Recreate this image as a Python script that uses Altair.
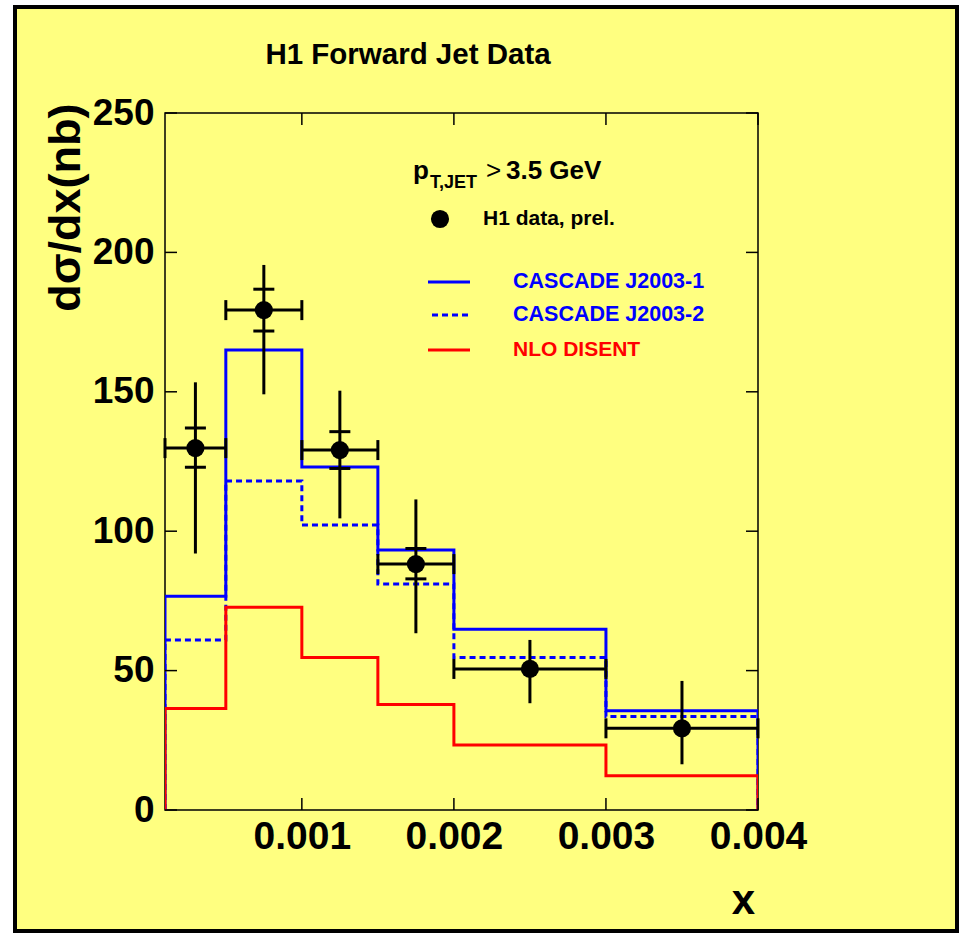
import altair as alt
import pandas as pd

# ---------------- data ----------------
bin_edges = [0.0001, 0.0005, 0.001, 0.0015, 0.002, 0.003, 0.004]
cascade1 = [76.7, 165.0, 123.0, 93.3, 64.8, 35.6]
cascade2 = [61.0, 118.0, 102.2, 81.1, 54.7, 33.5]
nlo_disent = [36.4, 72.7, 54.7, 37.8, 23.3, 12.3]

x_data = [0.0003, 0.00075, 0.00125, 0.00175, 0.0025, 0.0035]
y_data = [129.8, 179.3, 129.1, 88.2, 50.6, 29.3]
tot_lo = [92.0, 149.1, 104.6, 63.4, 38.3, 16.4]
tot_hi = [153.4, 195.5, 150.4, 111.4, 61.0, 46.3]
stat_lo = [122.9, 171.8, 122.5, 82.9, None, None]
stat_hi = [137.0, 186.8, 135.7, 93.8, None, None]

x_ticks = [0.001, 0.002, 0.003, 0.004]
y_ticks = [0, 50, 100, 150, 200, 250]

FONT = "Liberation Sans"
YELLOW = "#ffff80"
W, H = 593, 697

# ---------------- tables ----------------
def hist_outline(values, name):
    rows = [{"x": bin_edges[0], "y": 0.0, "o": 0, "s": name}]
    k = 1
    for i, v in enumerate(values):
        rows.append({"x": bin_edges[i], "y": v, "o": k, "s": name}); k += 1
        rows.append({"x": bin_edges[i + 1], "y": v, "o": k, "s": name}); k += 1
    rows.append({"x": bin_edges[-1], "y": 0.0, "o": k, "s": name})
    return pd.DataFrame(rows)

h1 = hist_outline(cascade1, "CASCADE J2003-1")
h2 = hist_outline(cascade2, "CASCADE J2003-2")
h3 = hist_outline(nlo_disent, "NLO DISENT")

pts = pd.DataFrame({
    "x": x_data, "y": y_data,
    "xlo": bin_edges[:-1], "xhi": bin_edges[1:],
    "tlo": tot_lo, "thi": tot_hi,
    "slo": stat_lo, "shi": stat_hi,
})
stat = pts.dropna(subset=["slo"])
caps_x = pd.concat([
    pd.DataFrame({"x": pts["xlo"], "y": pts["y"]}),
    pd.DataFrame({"x": pts["xhi"], "y": pts["y"]}),
])
caps_y = pd.concat([
    pd.DataFrame({"x": stat["x"], "y": stat["slo"]}),
    pd.DataFrame({"x": stat["x"], "y": stat["shi"]}),
])

xs = alt.Scale(domain=[bin_edges[0], bin_edges[-1]], nice=False, zero=False)
ys = alt.Scale(domain=[0, 250], nice=False)

x_axis = alt.Axis(values=x_ticks, format=".3f", title="x", grid=False,
                  ticks=False, domain=False, labelFlush=False, zindex=2,
                  labelFont=FONT, labelFontSize=39, labelFontWeight="bold",
                  labelColor="black", labelPadding=7,
                  titleFont=FONT, titleFontSize=42, titleFontWeight="bold",
                  titleX=578, titleY=90, titleAlign="center",
                  titleBaseline="middle", titleColor="black")
y_axis = alt.Axis(values=y_ticks, title="dσ/dx(nb)", grid=False,
                  ticks=False, domain=False, labelFlush=False, zindex=2,
                  labelFont=FONT, labelFontSize=37, labelFontWeight="bold",
                  labelColor="black", labelPadding=11,
                  titleFont=FONT, titleFontSize=45, titleFontWeight="bold",
                  titleAngle=-90, titleX=-100, titleY=-10, titleAlign="right",
                  titleBaseline="middle", titleColor="black")

one = pd.DataFrame({"a": [0]})

frame = alt.Chart(one).mark_rect(fill=YELLOW, stroke="black", strokeWidth=4).encode(
    x=alt.value(-150), x2=alt.value(792), y=alt.value(-106), y2=alt.value(818))
plot_box = alt.Chart(one).mark_rect(fill=None, filled=False, stroke="black",
                                    strokeWidth=1.5).encode(
    x=alt.value(0), x2=alt.value(W), y=alt.value(0), y2=alt.value(H))

def hist_layer(df, color, dash=None):
    kw = dict(color=color, strokeWidth=3, clip=True)
    if dash:
        kw["strokeDash"] = dash
    return alt.Chart(df).mark_line(**kw).encode(
        x=alt.X("x:Q", scale=xs, axis=x_axis),
        y=alt.Y("y:Q", scale=ys, axis=y_axis),
        order="o:Q")

l_c1 = hist_layer(h1, "#0000ff")
l_c2 = hist_layer(h2, "#0000ff", [6, 4])
l_nlo = hist_layer(h3, "#ff0000")

herr = alt.Chart(pts).mark_rule(color="black", strokeWidth=3).encode(
    x=alt.X("xlo:Q", scale=xs), x2="xhi:Q", y=alt.Y("y:Q", scale=ys))
verr = alt.Chart(pts).mark_rule(color="black", strokeWidth=3).encode(
    x=alt.X("x:Q", scale=xs), y=alt.Y("tlo:Q", scale=ys), y2="thi:Q")
hcaps = alt.Chart(caps_x).mark_tick(color="black", orient="vertical", size=20,
                                     thickness=3, opacity=1).encode(
    x=alt.X("x:Q", scale=xs), y=alt.Y("y:Q", scale=ys))
vcaps = alt.Chart(caps_y).mark_tick(color="black", orient="horizontal", size=21,
                                     thickness=3, opacity=1).encode(
    x=alt.X("x:Q", scale=xs), y=alt.Y("y:Q", scale=ys))
dots = alt.Chart(pts).mark_point(filled=True, shape="circle", size=330,
                                 color="black", opacity=1).encode(
    x=alt.X("x:Q", scale=xs), y=alt.Y("y:Q", scale=ys))

# inward ticks on all four sides
xt = pd.DataFrame({"t": x_ticks})
yt = pd.DataFrame({"t": y_ticks})
tick_b = alt.Chart(xt).mark_rule(color="black", strokeWidth=1.5).encode(
    x=alt.X("t:Q", scale=xs), y=alt.value(H), y2=alt.value(H - 12))
tick_t = alt.Chart(xt).mark_rule(color="black", strokeWidth=1.5).encode(
    x=alt.X("t:Q", scale=xs), y=alt.value(0), y2=alt.value(12))
tick_l = alt.Chart(yt).mark_rule(color="black", strokeWidth=1.5).encode(
    y=alt.Y("t:Q", scale=ys), x=alt.value(0), x2=alt.value(12))
tick_r = alt.Chart(yt).mark_rule(color="black", strokeWidth=1.5).encode(
    y=alt.Y("t:Q", scale=ys), x=alt.value(W), x2=alt.value(W - 12))

def txt(text, x, y, size, color="black", weight="bold", baseline="middle",
        align="left"):
    return alt.Chart(one).mark_text(text=text, font=FONT, fontSize=size,
                                    fontWeight=weight, color=color,
                                    align=align, baseline=baseline).encode(
        x=alt.value(x), y=alt.value(y))

title = txt("H1 Forward Jet Data", 243, -58, 29.5, align="center")
pt_p = txt("p", 248, 66, 26, baseline="alphabetic")
pt_sub = txt("T,JET", 265, 75, 18, baseline="alphabetic")
pt_gt = txt(">", 321, 66, 26, weight="normal", baseline="alphabetic")
pt_val = txt("3.5 GeV", 341, 66, 26, baseline="alphabetic")

leg_dot = alt.Chart(one).mark_point(filled=True, shape="circle", size=330,
                                    color="black", opacity=1).encode(
    x=alt.value(275), y=alt.value(106))
leg_dot_t = txt("H1 data, prel.", 318, 106, 21)
leg_l1 = alt.Chart(one).mark_rule(color="#0000ff", strokeWidth=3).encode(
    x=alt.value(263), x2=alt.value(305), y=alt.value(169))
leg_l1_t = txt("CASCADE J2003-1", 348, 169, 21.5, color="#0000ff")
leg_l2 = alt.Chart(one).mark_rule(color="#0000ff", strokeWidth=3,
                                  strokeDash=[6, 4]).encode(
    x=alt.value(267), x2=alt.value(305), y=alt.value(202))
leg_l2_t = txt("CASCADE J2003-2", 348, 202, 21.5, color="#0000ff")
leg_l3 = alt.Chart(one).mark_rule(color="#ff0000", strokeWidth=3).encode(
    x=alt.value(263), x2=alt.value(305), y=alt.value(237))
leg_l3_t = txt("NLO DISENT", 348, 237, 21, color="#ff0000")

chart = alt.layer(
    frame, plot_box, l_c1, l_c2, l_nlo, herr, verr, hcaps, vcaps, dots,
    tick_b, tick_t, tick_l, tick_r,
    title, pt_p, pt_sub, pt_gt, pt_val,
    leg_dot, leg_dot_t, leg_l1, leg_l1_t, leg_l2, leg_l2_t, leg_l3, leg_l3_t,
).properties(
    width=W, height=H,
    autosize=alt.AutoSizeParams(type="none"),
    padding={"left": 165, "top": 113, "right": 201, "bottom": 123},
    background="white",
).configure_view(
    stroke=None, fill=None
)

chart.save("out.html", embed_options={"renderer": "svg", "actions": False})
